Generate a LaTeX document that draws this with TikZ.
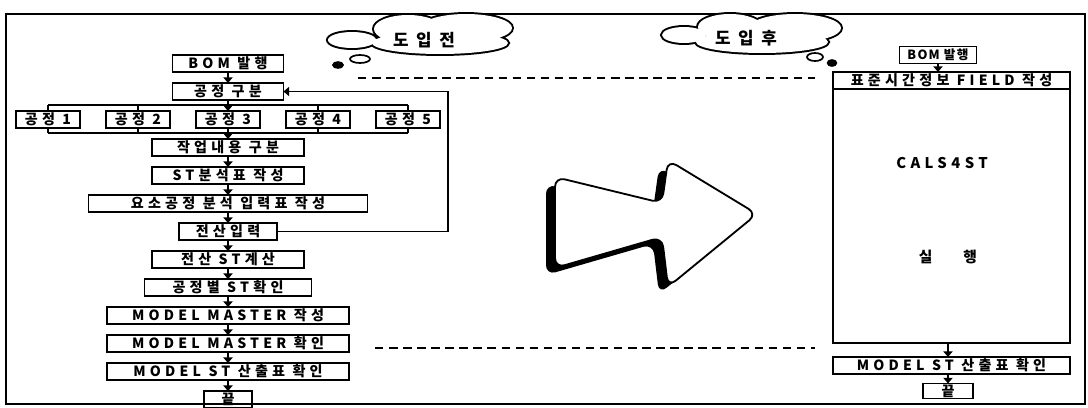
\documentclass[tikz,border=0pt]{standalone}
\usepackage{fontspec}
\newfontfamily\krfont[LetterSpace=30]{Noto Sans CJK KR}
\newfontfamily\krtight[LetterSpace=10]{Noto Sans CJK KR}
\newfontfamily\krwide[LetterSpace=45]{Noto Sans CJK KR}
\usetikzlibrary{arrows.meta,positioning,shapes.geometric}
\tikzset{
  sbox/.style={draw, line width=1.3pt, inner sep=0pt, outer sep=0pt,
               minimum height=0.425cm, font=\krfont\bfseries\fontsize{10}{11}\selectfont},
  wd/.style={minimum width=#1*0.025cm},
  flow/.style={-{Triangle[length=4pt,width=6.5pt]}, line width=1.2pt},
  bus/.style={line width=1.2pt},
  link/.style={dash pattern=on 6pt off 4pt, line width=1pt},
  cloudline/.style={line width=2.8pt},
  cloudtext/.style={font=\krwide\bfseries\fontsize{12}{12}\selectfont},
  puff/.style={ellipse, draw, line width=1.2pt, inner sep=0pt},
  bigtext/.style={font=\krfont\bfseries\fontsize{10.5}{11}\selectfont},
}
\begin{document}
\begin{tikzpicture}[x=0.025cm, y=-0.025cm, node distance=0.275cm]
  \useasboundingbox (0,0) rectangle (1088,408);
  \draw[line width=1pt] (6,14) rectangle (1085,404);

  % before: manual ST work
  \node[sbox, wd=111] (bom1) at (228,63.5) {BOM 발행};
  \node[sbox, wd=111, below=of bom1] (split) {공정 구분};
  \node[sbox, wd=64, below=of split] (p3) {공정 3};
  \node[sbox, wd=64, left=0.65cm of p3] (p2) {공정 2};
  \node[sbox, wd=64, left=0.65cm of p2] (p1) {공정 1};
  \node[sbox, wd=64, right=0.65cm of p3] (p4) {공정 4};
  \node[sbox, wd=64, right=0.65cm of p4] (p5) {공정 5};
  \node[sbox, wd=152, below=of p3] (work) {작업내용 구분};
  \node[sbox, wd=152, below=of work] (stsheet) {ST분석표 작성};
  \node[sbox, wd=279, below=of stsheet] (elem) {요소공정 분석 입력표 작성};
  \node[sbox, wd=98, below=of elem] (entry) {전산입력};
  \node[sbox, wd=152, below=of entry] (calc) {전산 ST계산};
  \node[sbox, wd=167, below=of calc] (check) {공정별 ST확인};
  \node[sbox, wd=242, below=of check] (mmake) {MODEL MASTER 작성};
  \node[sbox, wd=242, below=of mmake] (mcheck) {MODEL MASTER 확인};
  \node[sbox, wd=242, below=of mcheck] (mout) {MODEL ST 산출표 확인};
  \node[sbox, wd=48, below=of mout] (fin) {끝};

  \foreach \a/\b in {bom1/split, split/p3, p3/work, work/stsheet, stsheet/elem,
                     elem/entry, entry/calc, calc/check, check/mmake,
                     mmake/mcheck, mcheck/mout, mout/fin}
    \draw[flow] (\a) -- (\b);

  % process bus
  \coordinate (bt) at (0,105);
  \coordinate (bb) at (0,133);
  \draw[bus] (p1.north |- bt) -- (p5.north |- bt);
  \draw[bus] (p1.south |- bb) -- (p5.south |- bb);
  \foreach \p in {p1,p2,p4,p5} {
    \draw[bus] (\p.north) -- (\p.north |- bt);
    \draw[bus] (\p.south) -- (\p.south |- bb);
  }
  \draw[flow] (entry.east) -- ++(171,0) |- (split.east);

  % clouds (union of ellipses)
  \draw[cloudline] (352,40) ellipse (24 and 8) (408,29) ellipse (34 and 14)
    (466,28) ellipse (46 and 14) (440,43) ellipse (68 and 11);
  \fill[white] (352,40) ellipse (24 and 8) (408,29) ellipse (34 and 14)
    (466,28) ellipse (46 and 14) (440,43) ellipse (68 and 11);
  \node[cloudtext] (before) at (424,40) {도입전};
  \node[puff, minimum width=0.5cm, minimum height=0.2cm] (pb1) at (360,59) {};
  \node[puff, fill, minimum width=0.25cm, minimum height=0.15cm] (pb2) at (338,65) {};

  \draw[cloudline] (684,35) ellipse (22 and 8) (730,27) ellipse (32 and 13)
    (795,28) ellipse (46 and 14) (762,42) ellipse (66 and 11);
  \fill[white] (684,35) ellipse (22 and 8) (730,27) ellipse (32 and 13)
    (795,28) ellipse (46 and 14) (762,42) ellipse (66 and 11);
  \node[cloudtext] (after) at (746,38) {도입후};
  \node[puff, minimum width=0.4cm, minimum height=0.2cm] (pa1) at (815,57) {};
  \node[puff, fill, minimum width=0.22cm, minimum height=0.15cm] (pa2) at (832,63) {};

  % big arrow
  \fill[black, shift={(-9,7)}, rounded corners=7pt]
    (555,177) -- (662,203) -- (668,160) -- (757,214) -- (668,287) -- (662,237)
    -- (555,268) -- cycle;
  \filldraw[fill=white, line width=1.3pt, rounded corners=7pt]
    (555,177) -- (662,203) -- (668,160) -- (757,214) -- (668,287) -- (662,237)
    -- (555,268) -- cycle;

  % after: CALS4ST
  \node[sbox, wd=77, font=\krtight\bfseries\fontsize{9}{10}\selectfont] (bom2) at (938,55) {BOM 발행};
  \node[sbox, wd=237] (field) at (951.5,80.5) {표준시간정보 FIELD 작성};
  \node[draw, line width=1.3pt, inner sep=0pt, outer sep=0pt, wd=237,
        minimum height=6.35cm, below=0pt of field] (body) {};
  \node[bigtext] (cals) at (942,163) {CALS4ST};
  \node[bigtext] (run) at (948,257) {실\hspace{22pt}행};
  \node[sbox, wd=237] (mout2) at (951.5,365.5) {MODEL ST 산출표 확인};
  \node[sbox, wd=50, minimum height=0.375cm] (fin2) at (948,391) {끝};

  \draw[flow] (bom2.south) -- (bom2.south |- field.north);
  \draw[flow] (body.south -| fin2) -- (mout2.north -| fin2);
  \draw[flow] (mout2.south -| fin2) -- (fin2);

  % dashed guides
  \coordinate (dta) at (358,78);
  \coordinate (dtb) at (815,78);
  \coordinate (dba) at (375,348);
  \coordinate (dbb) at (815,348);
  \draw[link] (dta) -- (dtb);
  \draw[link] (dba) -- (dbb);
\end{tikzpicture}
\end{document}
